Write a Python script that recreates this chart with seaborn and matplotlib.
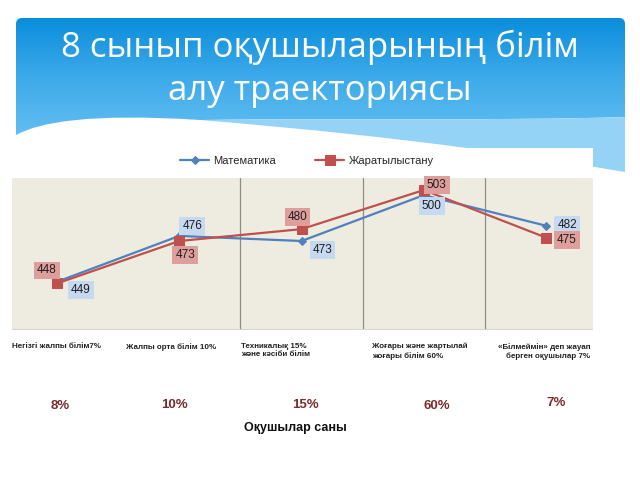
import numpy as np
import pandas as pd
import matplotlib
matplotlib.use("Agg")
import matplotlib.pyplot as plt
import seaborn as sns
from matplotlib.path import Path
from matplotlib.patches import PathPatch, Rectangle
from matplotlib.colors import LinearSegmentedColormap

# ---------------- data ----------------
title = "8 сынып оқушыларының білім\nалу траекториясы"
categories = [
    "Негізгі жалпы білім7%",
    "Жалпы орта білім 10%",
    "Техникалық 15%\nжәне кәсіби білім",
    "Жоғары және жартылай\nжоғары білім 60%",
    "«Білмеймін» деп жауап\nберген оқушылар 7%",
]
shares = ["8%", "10%", "15%", "60%", "7%"]
math_scores = [449, 476, 473, 500, 482]
sci_scores = [448, 473, 480, 503, 475]
series_names = ["Математика", "Жаратылыстану"]
xlabel = "Оқушылар саны"

idx = list(range(len(categories)))
df_math = pd.DataFrame({"pos": idx, "score": math_scores})
df_sci = pd.DataFrame({"pos": idx, "score": sci_scores})

BLUE = "#4F81BD"
RED = "#C0504D"

sns.set_style("white")
plt.rcParams["font.family"] = ["Liberation Sans", "DejaVu Sans"]

fig = plt.figure(figsize=(6.4, 4.8), dpi=100)
fig.patch.set_facecolor("white")

# ---------------- slide background (pixel coordinates) ----------------
bg = fig.add_axes([0, 0, 1, 1], zorder=0)
bg.set_xlim(0, 640)
bg.set_ylim(480, 0)
bg.axis("off")

band = Path(
    [(200, 120), (350, 118), (500, 121), (625, 117), (625, 172),
     (540, 158), (420, 138), (200, 120), (200, 120)],
    [Path.MOVETO, Path.CURVE4, Path.CURVE4, Path.CURVE4, Path.LINETO,
     Path.CURVE4, Path.CURVE4, Path.CURVE4, Path.CLOSEPOLY])
bg.add_patch(PathPatch(band, facecolor="#95D3F6", edgecolor="none"))

banner = Path(
    [(16, 135), (16, 24), (16, 18), (22, 18), (619, 18), (625, 18), (625, 24),
     (625, 117), (500, 121), (350, 118), (200, 120), (90, 113), (40, 122),
     (16, 135), (16, 135)],
    [Path.MOVETO, Path.LINETO, Path.CURVE3, Path.CURVE3, Path.LINETO,
     Path.CURVE3, Path.CURVE3, Path.LINETO, Path.CURVE4, Path.CURVE4,
     Path.CURVE4, Path.CURVE4, Path.CURVE4, Path.CURVE4, Path.CLOSEPOLY])
cmap = LinearSegmentedColormap.from_list("b", ["#0A8DDB", "#3DAAEA", "#62BEF1"])
grad = np.linspace(0, 1, 256).reshape(-1, 1)
im = bg.imshow(grad, extent=(16, 625, 136, 18), aspect="auto", cmap=cmap,
               origin="upper")
bp = PathPatch(banner, facecolor="none", edgecolor="none")
bg.add_patch(bp)
im.set_clip_path(bp)

bg.text(320, 69, title, ha="center", va="center", color="white",
        fontsize=25, family=["Open Sans", "DejaVu Sans"], linespacing=1.32)

# white legend strip
bg.add_patch(Rectangle((12, 148), 581, 30, facecolor="white", edgecolor="none"))

# ---------------- chart ----------------
ax = fig.add_axes([12 / 640, 1 - 330 / 480, 581 / 640, 152 / 480], zorder=2)
ax.set_facecolor("#EEECE1")

sns.lineplot(data=df_math, x="pos", y="score", ax=ax, color=BLUE, marker="D",
             markersize=4, markeredgecolor=BLUE, linewidth=1.6,
             label=series_names[0], legend=False)
sns.lineplot(data=df_sci, x="pos", y="score", ax=ax, color=RED, marker="s",
             markersize=6.5, markeredgecolor=RED, linewidth=1.6,
             label=series_names[1], legend=False)

ax.set_xlim(-0.368, 4.384)
ax.set_ylim(420.6, 510.1)
ax.set_xticks([])
ax.set_yticks([])
ax.set_xticks([1.5, 2.5, 3.5], minor=True)
ax.tick_params(which="both", length=0)
ax.grid(True, which="minor", axis="x", color="#8C8C8C", linewidth=0.9)
ax.set_xlabel("")
ax.set_ylabel("")
for s in ax.spines.values():
    s.set_visible(False)
ax.axhline(420.6, color="#D8D6CC", linewidth=1.5)

# data labels (offsets in pixels)
math_off = [(24, -8), (13, 10), (21, -9), (8, -11), (21, 1)]
sci_off = [(-10, 13), (6, -14), (-4, 12), (13, 5), (21, -2)]
for i, v in enumerate(math_scores):
    ax.annotate(str(v), (i, v), xytext=math_off[i], textcoords="offset pixels",
                ha="center", va="center", fontsize=8.5, color="#1F1F1F",
                bbox=dict(boxstyle="square,pad=0.25", fc="#C6D9F1", ec="none"),
                zorder=5)
for i, v in enumerate(sci_scores):
    ax.annotate(str(v), (i, v), xytext=sci_off[i], textcoords="offset pixels",
                ha="center", va="center", fontsize=8.5, color="#1F1F1F",
                bbox=dict(boxstyle="square,pad=0.25", fc="#DE9E9C", ec="none"),
                zorder=5)

# legend
h = ax.get_lines()[:2]
fig.legend(h, series_names, loc="center", bbox_to_anchor=(307 / 640, 1 - 161 / 480),
           ncol=2, frameon=False, fontsize=8, handlelength=2.6,
           columnspacing=3.5, handletextpad=0.4)

# category labels under the plot
cat_px = [(12, "left"), (126, "left"), (241, "left"), (420, "center"), (590, "right")]
for (px, ha), lab in zip(cat_px, categories):
    fig.text(px / 640, 1 - 343 / 480, lab, ha=ha, va="top", fontsize=5.8,
             fontweight="bold", color="#222222", linespacing=1.25,
             multialignment=ha if ha != "center" else "left")

share_px = [(60, 406), (174, 405), (305, 405), (437, 406), (556, 403)]
for (px, py), s in zip(share_px, shares):
    fig.text(px / 640, 1 - py / 480, s, ha="center", va="center", fontsize=9.5,
             fontweight="bold", color="#7A2C2C")

fig.text(295 / 640, 1 - 428 / 480, xlabel, ha="center", va="center",
         fontsize=9, fontweight="bold", color="#111111")

fig.savefig("out.png", dpi=100)
